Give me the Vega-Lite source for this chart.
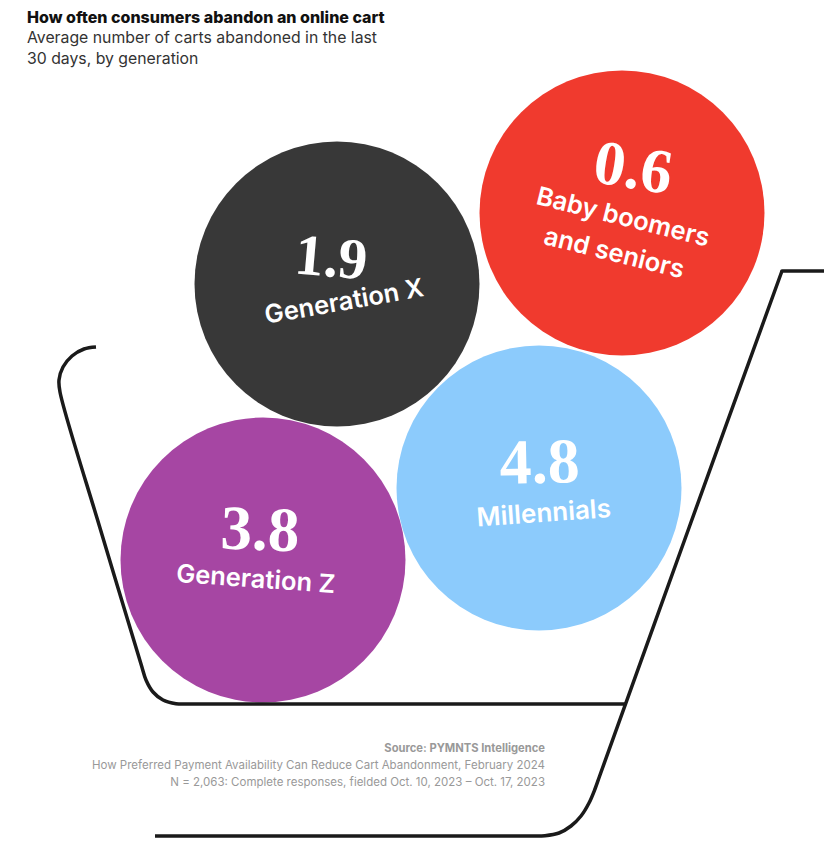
{"$schema":"https://vega.github.io/schema/vega-lite/v6.json","width":824,"height":861,"padding":0,"autosize":{"type":"none"},"background":"#ffffff","view":{"stroke":null},
"title":{"text":"How often consumers abandon an online cart","subtitle":["Average number of carts abandoned in the last","30 days, by generation"],"anchor":"start","frame":"group","dx":27,"offset":-67,"font":"Inter","fontSize":16,"fontWeight":800,"color":"#111111","subtitleFont":"Inter","subtitleFontSize":15.8,"subtitleFontWeight":400,"subtitleColor":"#333333","subtitleLineHeight":21,"subtitlePadding":5},
"data":{"values":[
{"generation":"Baby boomers\nand seniors","carts":0.6,"x":622,"y":213},
{"generation":"Generation X","carts":1.9,"x":337,"y":284},
{"generation":"Generation Z","carts":3.8,"x":263,"y":560},
{"generation":"Millennials","carts":4.8,"x":539,"y":488}]},
"encoding":{"x":{"field":"x","type":"quantitative","scale":{"domain":[0,824]},"axis":null},"y":{"field":"y","type":"quantitative","scale":{"domain":[0,861],"reverse":true},"axis":null}},
"layer":[
{"mark":{"type":"circle","opacity":1,"size":81225},"encoding":{"color":{"field":"generation","type":"nominal","legend":null,"scale":{"domain":["Baby boomers\nand seniors","Generation X","Generation Z","Millennials"],"range":["#F03A2E","#383838","#A646A3","#8CCBFC"]}}}},
{"data":{"name":"cart","values":[
{"p":"basket","i":1,"x":96,"y":347},{"p":"basket","i":2,"x":84,"y":349},{"p":"basket","i":3,"x":72,"y":356},{"p":"basket","i":4,"x":63,"y":367},{"p":"basket","i":5,"x":59,"y":380},{"p":"basket","i":6,"x":60,"y":392},{"p":"basket","i":7,"x":100,"y":528},{"p":"basket","i":8,"x":141,"y":664},{"p":"basket","i":9,"x":146,"y":680},{"p":"basket","i":10,"x":153,"y":692},{"p":"basket","i":11,"x":163,"y":700},{"p":"basket","i":12,"x":176,"y":703.7},{"p":"basket","i":13,"x":190,"y":704},{"p":"basket","i":14,"x":400,"y":704},{"p":"basket","i":15,"x":625,"y":704},
{"p":"handle","i":1,"x":824,"y":271},{"p":"handle","i":2,"x":783,"y":271},{"p":"handle","i":3,"x":782,"y":271},{"p":"handle","i":4,"x":781.6,"y":272},{"p":"handle","i":5,"x":690,"y":525},{"p":"handle","i":6,"x":600,"y":775},{"p":"handle","i":7,"x":595,"y":789},{"p":"handle","i":8,"x":589,"y":803},{"p":"handle","i":9,"x":581,"y":816},{"p":"handle","i":10,"x":571,"y":826},{"p":"handle","i":11,"x":559,"y":833},{"p":"handle","i":12,"x":545,"y":835.7},{"p":"handle","i":13,"x":530,"y":836},{"p":"handle","i":14,"x":350,"y":836},{"p":"handle","i":15,"x":155,"y":836}]},
"mark":{"type":"line","stroke":"#1a1a1a","strokeWidth":3.5,"strokeCap":"butt","strokeJoin":"miter","interpolate":"catmull-rom"},"encoding":{"detail":{"field":"p"},"order":{"field":"i","type":"quantitative"}}},
{"transform":[{"filter":"datum.carts==0.6"}],"mark":{"type":"text","font":"Liberation Serif","fontWeight":"bold","fontSize":63,"color":"#fff","angle":9,"dx":4,"dy":-45},"encoding":{"text":{"field":"carts","type":"quantitative","format":".1f"}}},
{"transform":[{"filter":"datum.carts==1.9"}],"mark":{"type":"text","font":"Liberation Serif","fontWeight":"bold","fontSize":58,"color":"#fff","angle":5,"dx":-8,"dy":-24},"encoding":{"text":{"field":"carts","type":"quantitative","format":".1f"}}},
{"transform":[{"filter":"datum.carts==3.8"}],"mark":{"type":"text","font":"Liberation Serif","fontWeight":"bold","fontSize":63,"color":"#fff","angle":2,"dx":-4,"dy":-29},"encoding":{"text":{"field":"carts","type":"quantitative","format":".1f"}}},
{"transform":[{"filter":"datum.carts==4.8"}],"mark":{"type":"text","font":"Liberation Serif","fontWeight":"bold","fontSize":64,"color":"#fff","angle":-1,"dx":1,"dy":-24},"encoding":{"text":{"field":"carts","type":"quantitative","format":".1f"}}},
{"transform":[{"filter":"datum.carts==0.6"}],"mark":{"type":"text","font":"Inter","fontWeight":600,"fontSize":25.5,"color":"#fff","angle":14,"lineBreak":"\n","lineHeight":37,"dx":2,"dy":4},"encoding":{"text":{"field":"generation"}}},
{"transform":[{"filter":"datum.carts==1.9"}],"mark":{"type":"text","font":"Inter","fontWeight":600,"fontSize":25.5,"color":"#fff","angle":-10,"dx":4,"dy":19},"encoding":{"text":{"field":"generation"}}},
{"transform":[{"filter":"datum.carts==3.8"}],"mark":{"type":"text","font":"Inter","fontWeight":600,"fontSize":25.5,"color":"#fff","angle":4,"dx":-6,"dy":20},"encoding":{"text":{"field":"generation"}}},
{"transform":[{"filter":"datum.carts==4.8"}],"mark":{"type":"text","font":"Inter","fontWeight":600,"fontSize":26,"color":"#fff","angle":-4,"dx":3,"dy":26},"encoding":{"text":{"field":"generation"}}},
{"data":{"name":"notes","values":[
{"line":"Source: PYMNTS Intelligence","x":545,"y":749,"w":"b"},
{"line":"How Preferred Payment Availability Can Reduce Cart Abandonment, February 2024","x":545,"y":766,"w":"n"},
{"line":"N = 2,063: Complete responses, fielded Oct. 10, 2023 – Oct. 17, 2023","x":545,"y":783,"w":"n"}]},
"transform":[{"filter":"datum.w=='n'"}],"mark":{"type":"text","font":"Inter","fontSize":11.5,"fontWeight":400,"align":"right","color":"#999999"},"encoding":{"text":{"field":"line"}}},
{"data":{"name":"notes"},"transform":[{"filter":"datum.w=='b'"}],"mark":{"type":"text","font":"Inter","fontSize":11.2,"fontWeight":700,"align":"right","color":"#999999"},"encoding":{"text":{"field":"line"}}}
]}
